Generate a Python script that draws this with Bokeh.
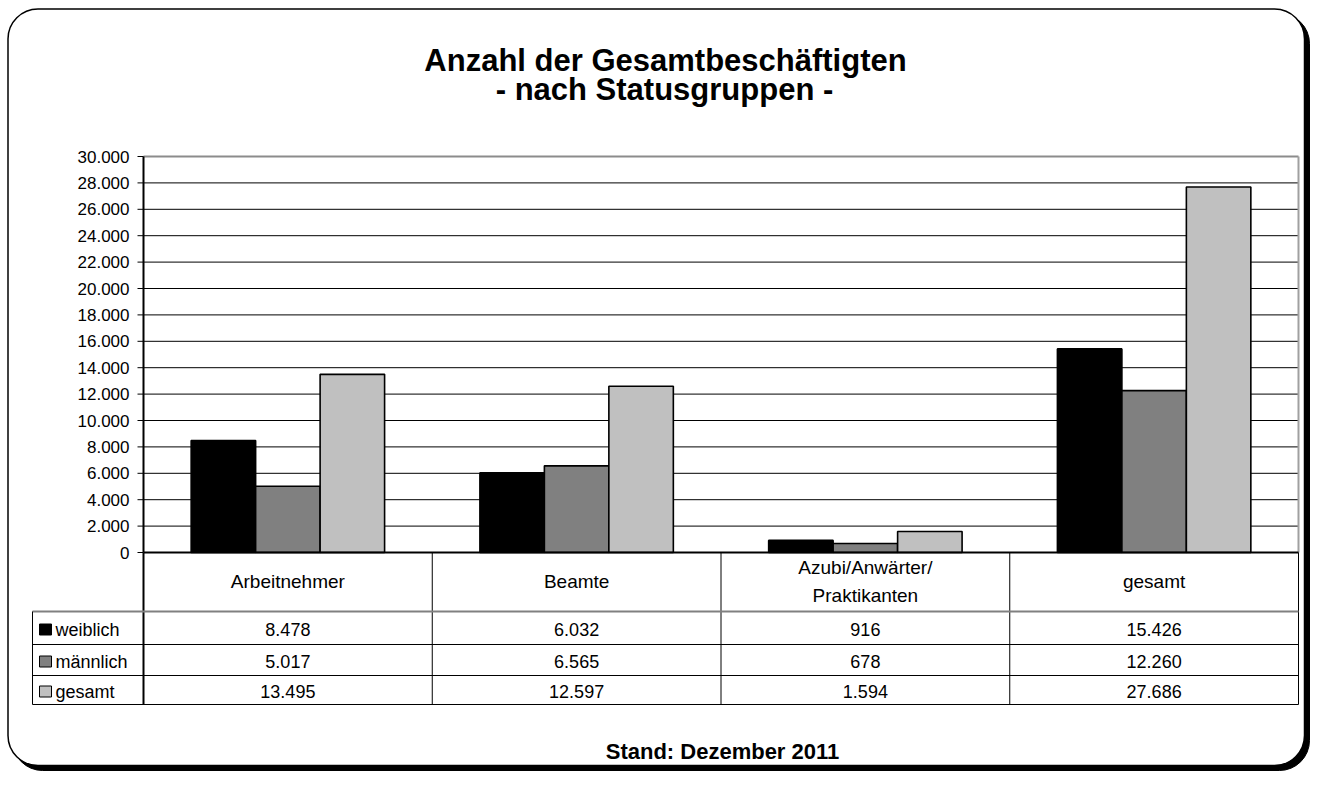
from bokeh.plotting import figure
from bokeh.models import Range1d, ColumnDataSource
from bokeh.transform import dodge
from bokeh.core.properties import value
from bokeh.embed import file_html
from bokeh.resources import INLINE

# ---------------- data ----------------
categories = ["Arbeitnehmer", "Beamte", "Azubi/Anwärter/\nPraktikanten", "gesamt"]
series_names = ["weiblich", "männlich", "gesamt"]
weiblich = [8478, 6032, 916, 15426]
maennlich = [5017, 6565, 678, 12260]
gesamt = [13495, 12597, 1594, 27686]
y_ticks = [0, 2000, 4000, 6000, 8000, 10000, 12000, 14000, 16000,
           18000, 20000, 22000, 24000, 26000, 28000, 30000]
y_tick_labels = ["0", "2.000", "4.000", "6.000", "8.000", "10.000", "12.000", "14.000",
                 "16.000", "18.000", "20.000", "22.000", "24.000", "26.000", "28.000", "30.000"]
title_lines = ["Anzahl der Gesamtbeschäftigten", "- nach Statusgruppen -"]
footnote = "Stand: Dezember 2011"

# ---------------- layout / style ----------------
FONT = value("Liberation Sans")
W, H = 1311, 771
X_LEFT, X_RIGHT = 143, 1298      # plot area, px
Y_TOP, Y_ZERO = 156, 552
ROW_LINES = [611, 644, 675, 704]  # table horizontal lines, px
LEG_LEFT = 32
COLORS = ["#000000", "#808080", "#C0C0C0"]

n = len(categories)
unit = (X_RIGHT - X_LEFT) / n
ymax = y_ticks[-1]
k = ymax / (Y_ZERO - Y_TOP)

p = figure(width=W, height=H,
           x_range=Range1d(-X_LEFT / unit, (W - X_LEFT) / unit),
           y_range=Range1d(-(H - Y_ZERO) * k, Y_ZERO * k),
           x_axis_type=None, y_axis_type=None,
           output_backend="svg", toolbar_location=None, min_border=0,
           outline_line_color=None, border_fill_color="white",
           background_fill_color="white")
p.extra_x_ranges = {"px": Range1d(0, W)}
p.extra_y_ranges = {"px": Range1d(H, 0)}
PX = dict(x_range_name="px", y_range_name="px")

# outer rounded box with shadow
p.quad(left=[12], right=[1309], top=[13], bottom=[770], fill_color="black",
       line_color="black", border_radius=30, **PX)
p.quad(left=[7.5], right=[1304], top=[8.5], bottom=[765], fill_color="white",
       line_color="black", line_width=1.5, border_radius=30, **PX)

# title and footnote
p.text(x=[665, 664], y=[60, 89], text=title_lines, text_font=FONT,
       text_font_style="bold", text_font_size="31px", text_align="center",
       text_baseline="middle", text_color="black", **PX)
p.text(x=[722], y=[751], text=[footnote], text_font=FONT, text_font_style="bold",
       text_font_size="22px", text_align="center", text_baseline="middle",
       text_color="black", **PX)

# gridlines
inner = y_ticks[1:-1]
p.segment(x0=[0] * len(inner), x1=[n] * len(inner), y0=inner, y1=inner,
          line_color="black", line_width=1)
p.segment(x0=[0], x1=[n], y0=[ymax], y1=[ymax], line_color="#8c8c8c", line_width=2)
p.segment(x0=[n], x1=[n], y0=[0], y1=[ymax], line_color="#a0a0a0", line_width=2)

# bars
src = ColumnDataSource(dict(xc=[i + 0.5 for i in range(n)], w=weiblich, m=maennlich, g=gesamt))
bw = 0.2233
for off, col, color in zip([-bw, 0, bw], ["w", "m", "g"], COLORS):
    p.vbar(x=dodge("xc", off), top=col, bottom=0, width=bw, source=src,
           fill_color=color, line_color="black", line_width=1.6)

# y axis
p.segment(x0=[0], x1=[0], y0=[0], y1=[ymax], line_color="black", line_width=2)
p.segment(x0=[0], x1=[n], y0=[0], y1=[0], line_color="black", line_width=2)
p.segment(x0=[X_LEFT - 6] * len(y_ticks), x1=[X_LEFT] * len(y_ticks), y0=y_ticks, y1=y_ticks,
          line_color="black", line_width=1, x_range_name="px")
p.text(x=[X_LEFT - 14] * len(y_ticks), y=y_ticks, text=y_tick_labels, text_font=FONT,
       text_font_size="17px", text_align="right", text_baseline="middle",
       text_color="black", x_range_name="px")

# data table
bounds = list(range(n + 1))
p.segment(x0=bounds, x1=bounds, y0=[Y_ZERO] * (n + 1), y1=[ROW_LINES[-1]] * (n + 1),
          line_color="black", line_width=[2] + [1] * n, y_range_name="px")
p.segment(x0=[LEG_LEFT], x1=[X_RIGHT], y0=[ROW_LINES[0]], y1=[ROW_LINES[0]],
          line_color="#808080", line_width=2, **PX)
p.segment(x0=[LEG_LEFT] * 3, x1=[X_RIGHT] * 3, y0=ROW_LINES[1:], y1=ROW_LINES[1:],
          line_color="black", line_width=1, **PX)
p.segment(x0=[LEG_LEFT], x1=[LEG_LEFT], y0=[ROW_LINES[0]], y1=[ROW_LINES[-1]],
          line_color="black", line_width=1, **PX)

p.text(x=[i + 0.5 for i in range(n)], y=[581] * n, text=categories, text_font=FONT,
       text_font_size="19px", text_align="center", text_baseline="middle",
       text_line_height=1.3, text_color="black", y_range_name="px")

row_centers = [(ROW_LINES[r] + ROW_LINES[r + 1]) / 2 + 1.5 for r in range(3)]
for r, vals in enumerate([weiblich, maennlich, gesamt]):
    labels = [f"{v:,}".replace(",", ".") for v in vals]
    p.text(x=[i + 0.5 for i in range(n)], y=[row_centers[r]] * n, text=labels,
           text_font=FONT, text_font_size="18px", text_align="center",
           text_baseline="middle", text_color="black", y_range_name="px")

p.rect(x=[45] * 3, y=row_centers, width=12, height=11, fill_color=COLORS,
       line_color="black", line_width=1, **PX)
p.text(x=[55] * 3, y=row_centers, text=series_names, text_font=FONT,
       text_font_size="18px", text_align="left", text_baseline="middle",
       text_color="black", **PX)

open("out.html", "w").write(file_html(p, INLINE))
